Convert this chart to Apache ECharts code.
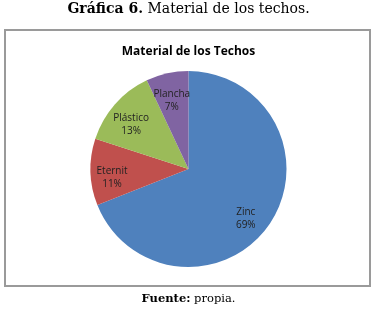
<!DOCTYPE html>
<html>
<head>
<meta charset="utf-8">
<script src="https://cdn.jsdelivr.net/npm/echarts@6/dist/echarts.min.js"></script>
<style>
  html, body { margin: 0; padding: 0; background: #fff; }
  #chart { width: 377px; height: 309px; }
</style>
</head>
<body>
<div id="chart"></div>
<script>
// Roof material shares (percent), clockwise from 12 o'clock
const materials = ["Zinc", "Eternit", "Plástico", "Plancha"];
const shares = [69, 11, 13, 7];
const sliceColors = ["#4F81BD", "#C0504D", "#9BBB59", "#8064A2"];

const chart = echarts.init(document.getElementById("chart"));

const pieData = materials.map((name, i) => ({
  name: name,
  value: shares[i],
  itemStyle: { color: sliceColors[i] }
}));

const center = ["50%", 169];
const radius = 98;

// labels sit on a transparent ring; Zinc's label is nudged a bit like Excel does
const labelData = materials.map((name, i) => {
  const item = { name: name, value: shares[i] };
  if (i === 0) item.label = { offset: [-6, 7] };
  return item;
});

chart.setOption({
  animation: false,
  title: {
    text: "Material de los Techos",
    left: "center",
    top: 41,
    textStyle: {
      fontFamily: "Open Sans",
      fontSize: 12,
      fontWeight: "bold",
      color: "#000"
    }
  },
  graphic: [
    {
      type: "rect",
      shape: { x: 5, y: 30, width: 365, height: 256 },
      style: { fill: null, stroke: "#9a9a9a", lineWidth: 2 },
      silent: true
    },
    {
      type: "text",
      left: "center",
      top: 2,
      style: {
        rich: {
          b: { fontFamily: "DejaVu Serif", fontWeight: "bold", fontSize: 14, fill: "#000" },
          n: { fontFamily: "DejaVu Serif", fontSize: 14, fill: "#000" }
        },
        text: "{b|Gráfica 6.}{n| Material de los techos.}"
      }
    },
    {
      type: "text",
      left: "center",
      top: 293,
      style: {
        rich: {
          b: { fontFamily: "DejaVu Serif", fontWeight: "bold", fontSize: 11.5, fill: "#000" },
          n: { fontFamily: "DejaVu Serif", fontSize: 11.5, fill: "#000" }
        },
        text: "{b|Fuente:}{n| propia.}"
      }
    }
  ],
  series: [
    {
      // the slices themselves
      type: "pie",
      center: center,
      radius: [0, radius],
      startAngle: 90,
      clockwise: true,
      silent: true,
      data: pieData,
      label: { show: false },
      labelLine: { show: false },
      itemStyle: { borderWidth: 0 }
    },
    {
      // transparent ring used only to put labels at ~3/4 of the radius
      type: "pie",
      center: center,
      radius: [radius * 0.5, radius],
      startAngle: 90,
      clockwise: true,
      silent: true,
      data: labelData,
      itemStyle: { color: "rgba(0,0,0,0)", borderWidth: 0 },
      label: {
        show: true,
        position: "inside",
        formatter: "{b}\n{c}%",
        fontFamily: "Open Sans",
        fontSize: 10,
        lineHeight: 13,
        color: "#222",
        offset: [0, 6]
      },
      labelLine: { show: false }
    }
  ]
});
</script>
</body>
</html>
